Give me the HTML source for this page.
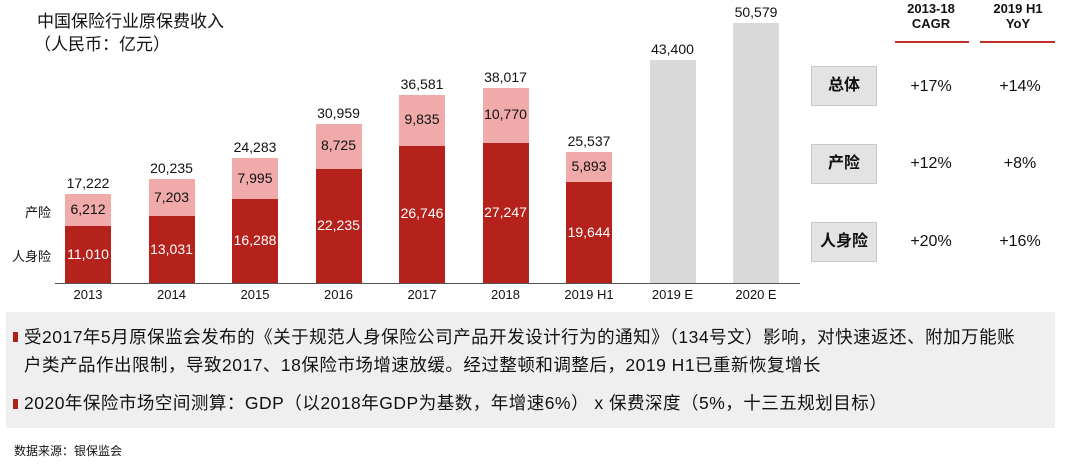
<!DOCTYPE html>
<html><head><meta charset="utf-8"><style>
body{margin:0;width:1080px;height:468px;background:#fff;position:relative;overflow:hidden;font-family:"Liberation Sans","Noto Sans CJK SC",sans-serif;color:#111}
.a{position:absolute;white-space:nowrap}
.bar{position:absolute;width:46px}
.n{position:absolute;width:80px;text-align:center;font-size:14px;white-space:nowrap}
.btn{position:absolute;left:811px;width:66px;height:40px;background:#e3e3e3;border:1px solid #c8c8c8;box-sizing:border-box;font-weight:bold;font-size:16px;text-align:center;line-height:38px}
.v{position:absolute;width:80px;text-align:center;font-size:16px}
</style></head><body>
<div class="a" style="left:37px;top:7px;font-size:17px">中国保险行业原保费收入</div>
<div class="a" style="left:34px;top:30px;font-size:17px">（人民币：亿元）</div>
<div class="a" style="left:25px;top:202px;font-size:13px">产险</div>
<div class="a" style="left:12px;top:246px;font-size:13px">人身险</div>
<div class="a" style="left:55px;top:283px;width:745px;height:1px;background:#555"></div>
<div id="c"></div>
<div class="a" style="left:893px;top:1px;width:76px;text-align:center;font-size:13px;font-weight:bold;line-height:15px">2013-18<br>CAGR</div>
<div class="a" style="left:980px;top:1px;width:76px;text-align:center;font-size:13px;font-weight:bold;line-height:15px">2019 H1<br>YoY</div>
<div class="a" style="left:895px;top:41px;width:74px;height:2px;background:#c0302a"></div>
<div class="a" style="left:980px;top:41px;width:75px;height:2px;background:#c0302a"></div>
<div class="btn" style="top:66px">总体</div>
<div class="btn" style="top:144px">产险</div>
<div class="btn" style="top:222px">人身险</div>
<div class="v" style="left:891px;top:78px">+17%</div><div class="v" style="left:980px;top:78px">+14%</div>
<div class="v" style="left:891px;top:155px">+12%</div><div class="v" style="left:980px;top:155px">+8%</div>
<div class="v" style="left:891px;top:233px">+20%</div><div class="v" style="left:980px;top:233px">+16%</div>
<div class="a" style="left:6px;top:312px;width:1049px;height:116px;background:#efefef"></div>
<div class="a" style="left:13px;top:332px;width:5px;height:10px;background:#b0201a"></div>
<div class="a" style="left:24px;top:323px;font-size:17.5px;letter-spacing:0.5px;line-height:28px">受2017年5月原保监会发布的《关于规范人身保险公司产品开发设计行为的通知》（134号文）影响，对快速返还、附加万能账<br>户类产品作出限制，导致2017、18保险市场增速放缓。经过整顿和调整后，2019 H1已重新恢复增长</div>
<div class="a" style="left:13px;top:399px;width:5px;height:10px;background:#b0201a"></div>
<div class="a" style="left:24px;top:391px;font-size:17.5px;letter-spacing:0.5px;line-height:24px">2020年保险市场空间测算：GDP（以2018年GDP为基数，年增速6%） x 保费深度（5%，十三五规划目标）</div>
<div class="a" style="left:14px;top:442px;font-size:12px">数据来源：银保监会</div>
<script>
var d=[["2013",11010,6212,17222],["2014",13031,7203,20235],["2015",16288,7995,24283],["2016",22235,8725,30959],["2017",26746,9835,36581],["2018",27247,10770,38017],["2019 H1",19644,5893,25537],["2019 E",0,0,43400],["2020 E",0,0,50579]];
var s=0.00514,h="",B=283;
function f(x){return x.toLocaleString("en-US")}
d.forEach(function(r,i){var x=65+i*83.5,c=x+23;
 if(r[1]){var h1=r[1]*s,h2=r[2]*s;
  h+='<div class="bar" style="left:'+x+'px;top:'+(B-h1)+'px;height:'+h1+'px;background:#b5221c"></div>';
  h+='<div class="bar" style="left:'+x+'px;top:'+(B-h1-h2)+'px;height:'+h2+'px;background:#f0aaaa"></div>';
  h+='<div class="n" style="left:'+(c-40)+'px;top:'+(B-h1/2-9)+'px;color:#fff">'+f(r[1])+'</div>';
  h+='<div class="n" style="left:'+(c-40)+'px;top:'+(B-h1-h2/2-9)+'px">'+f(r[2])+'</div>';
 } else {var t=r[3]*s;h+='<div class="bar" style="left:'+x+'px;top:'+(B-t)+'px;height:'+t+'px;background:#d9d9d9"></div>';}
 h+='<div class="n" style="left:'+(c-40)+'px;top:'+(B-r[3]*s-19)+'px">'+f(r[3])+'</div>';
 h+='<div class="n" style="left:'+(c-40)+'px;top:287px;font-size:13px">'+r[0]+'</div>';
});
document.getElementById("c").innerHTML=h;
</script>
</body></html>
